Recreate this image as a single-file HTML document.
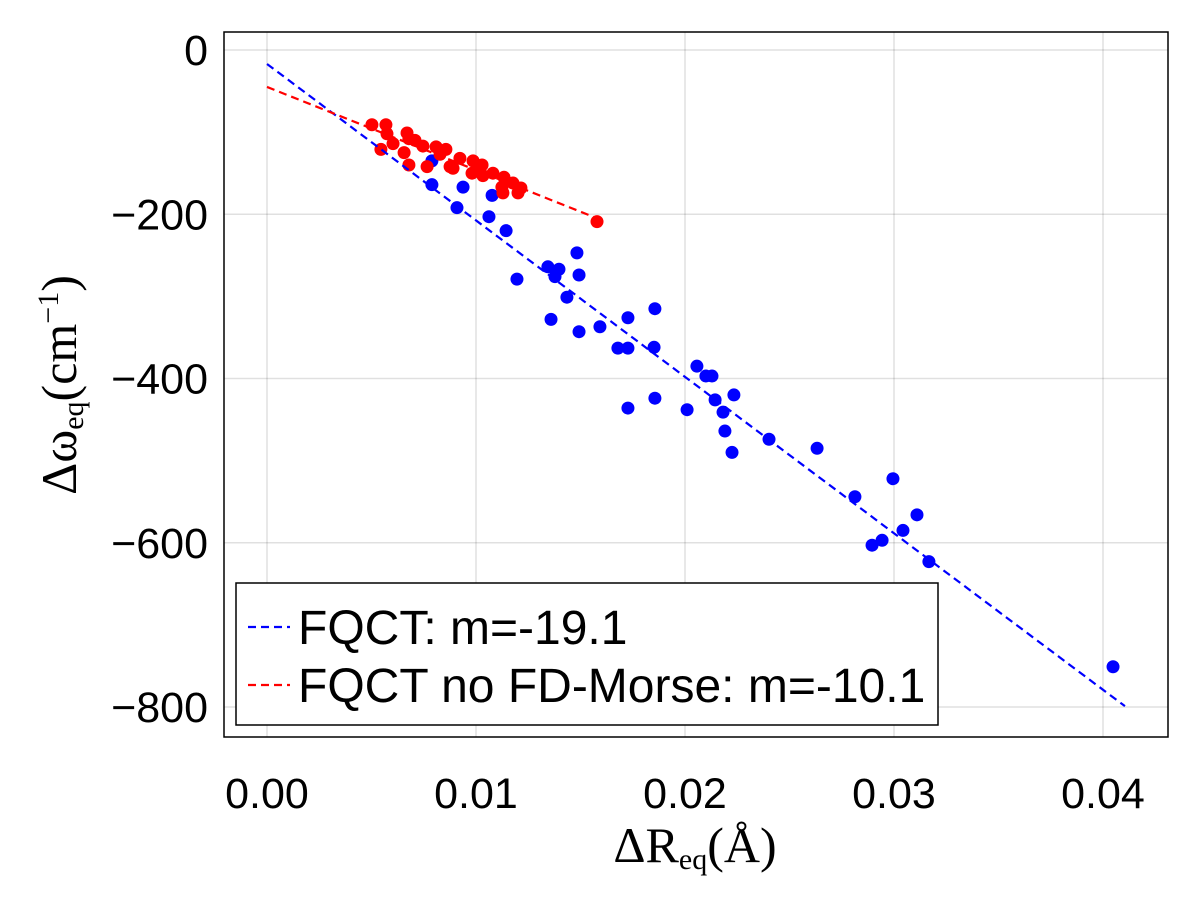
<!DOCTYPE html>
<html><head><meta charset="utf-8"><style>
body{margin:0;background:#fff;width:1200px;height:900px;overflow:hidden}
svg{display:block}
.tk{font-family:"Liberation Sans",sans-serif;font-size:43px;fill:#000}
.ser{font-family:"Liberation Serif","DejaVu Serif",serif;fill:#000}
</style></head><body>
<svg id="chart" width="1200" height="900"></svg>
<script>
const xTicks=[0,0.01,0.02,0.03,0.04];
const xTickLabels=["0.00","0.01","0.02","0.03","0.04"];
const yTicks=[0,-200,-400,-600,-800];
const yTickLabels=["0","−200","−400","−600","−800"];
const blueX=[0.00789,0.00789,0.00909,0.00938,0.01062,0.01077,0.01144,0.01196,0.01344,0.01359,0.01378,0.01397,0.01435,0.01483,0.01493,0.01493,0.01593,0.01679,0.01727,0.01727,0.01727,0.01856,0.01852,0.01856,0.02010,0.02057,0.02100,0.02129,0.02144,0.02182,0.02191,0.02225,0.02234,0.02402,0.02632,0.02813,0.02895,0.02943,0.02995,0.03043,0.03110,0.03167,0.04048];
const blueY=[-135,-164,-192,-167,-203,-177,-220,-279,-264,-328,-276,-267,-301,-247,-274,-343,-337,-363,-363,-326,-436,-315,-362,-424,-438,-385,-397,-397,-426,-441,-464,-490,-420,-474,-485,-544,-603,-597,-522,-585,-566,-623,-751];
const redX=[0.00502,0.00569,0.00574,0.00545,0.00603,0.00656,0.00670,0.00679,0.00708,0.00679,0.00746,0.00766,0.00809,0.00856,0.00828,0.00876,0.00890,0.00923,0.00986,0.01029,0.00981,0.01033,0.01081,0.01134,0.01124,0.01177,0.01129,0.01201,0.01215,0.01579,0.01005];
const redY=[-91,-91,-102,-121,-114,-125,-101,-108,-110,-140,-117,-142,-118,-121,-127,-142,-144,-132,-135,-140,-150,-153,-150,-155,-167,-162,-174,-174,-168,-209,-146];
const blueFitX=[0,0.04105];
const blueFitY=[-17,-799];
const redFitX=[0,0.0158];
const redFitY=[-45,-205];

const NS="http://www.w3.org/2000/svg";
const svg=document.getElementById('chart');
const L=224,R=1168,T=32,B=737;
const sx=v=>267+v*20900;
const sy=v=>50-v*0.82125;
function mk(tag,attrs,parent){const e=document.createElementNS(NS,tag);for(const k in attrs)e.setAttribute(k,attrs[k]);(parent||svg).appendChild(e);return e;}

const grid=mk('g',{});


xTicks.forEach((t,i)=>{
  const g=mk('line',{x1:sx(t),x2:sx(t),y1:T,y2:B,stroke:'#000','stroke-opacity':0.12,'stroke-width':1.5},grid);
  
  
  const tx=mk('text',{x:sx(t),y:808,'text-anchor':'middle',class:'tk'});
  tx.textContent=xTickLabels[i];
  
  
});
yTicks.forEach((t,i)=>{
  const g=mk('line',{x1:L,x2:R,y1:sy(t),y2:sy(t),stroke:'#000','stroke-opacity':0.12,'stroke-width':1.5},grid);
  
  
  const tx=mk('text',{x:208,y:sy(t)+15,'text-anchor':'end',class:'tk'});
  tx.textContent=yTickLabels[i];
  
  
});
const frame=mk('rect',{x:L,y:T,width:R-L,height:B-T,fill:'none',stroke:'#000','stroke-width':1.5});



function pts(xs,ys,col,name){
  xs.forEach((x,i)=>{
    const c=mk('circle',{cx:sx(x),cy:sy(ys[i]),r:6.5,fill:col});
    
    
  });
}
pts(blueX,blueY,'#0000ff','fqct-point');
pts(redX,redY,'#ff0000','fqct-no-fd-morse-point');
function fit(xs,ys,col,name){
  const l=mk('line',{x1:sx(xs[0]),y1:sy(ys[0]),x2:sx(xs[1]),y2:sy(ys[1]),stroke:col,'stroke-width':2.2,'stroke-dasharray':'8,5'});
  
  
}
fit(blueFitX,blueFitY,'#0000ff','fqct-fit-line');
fit(redFitX,redFitY,'#ff0000','fqct-no-fd-morse-fit-line');

const lg=mk('g',{});


mk('rect',{x:236,y:583,width:702,height:142,fill:'#fff',stroke:'#000','stroke-width':1.5},lg);
[['#0000ff','FQCT: m=-19.1',627],['#ff0000','FQCT no FD-Morse: m=-10.1',685]].forEach(([c,t,y])=>{
  const e=mk('g',{},lg);
  
  
  mk('line',{x1:248,x2:290,y1:y,y2:y,stroke:c,'stroke-width':2.2,'stroke-dasharray':'8,5'},e);
  const tx=mk('text',{x:298,y:y+17,class:'tk'},e);
  tx.style.fontSize='48px';
  tx.textContent=t;
});
</script>
<svg style="position:absolute;left:0;top:0" width="1200" height="900">
<text class="ser" x="695" y="862" text-anchor="middle" font-size="50">ΔR<tspan font-size="30" dy="7">eq</tspan><tspan dy="-7">(Å)</tspan></text>
<text class="ser" transform="translate(76,385) rotate(-90)" text-anchor="middle" font-size="50">Δω<tspan font-size="30" dy="7">eq</tspan><tspan dy="-7">(cm</tspan><tspan font-size="30" dy="-18">−1</tspan><tspan dy="18">)</tspan></text>
</svg>
</body></html>
